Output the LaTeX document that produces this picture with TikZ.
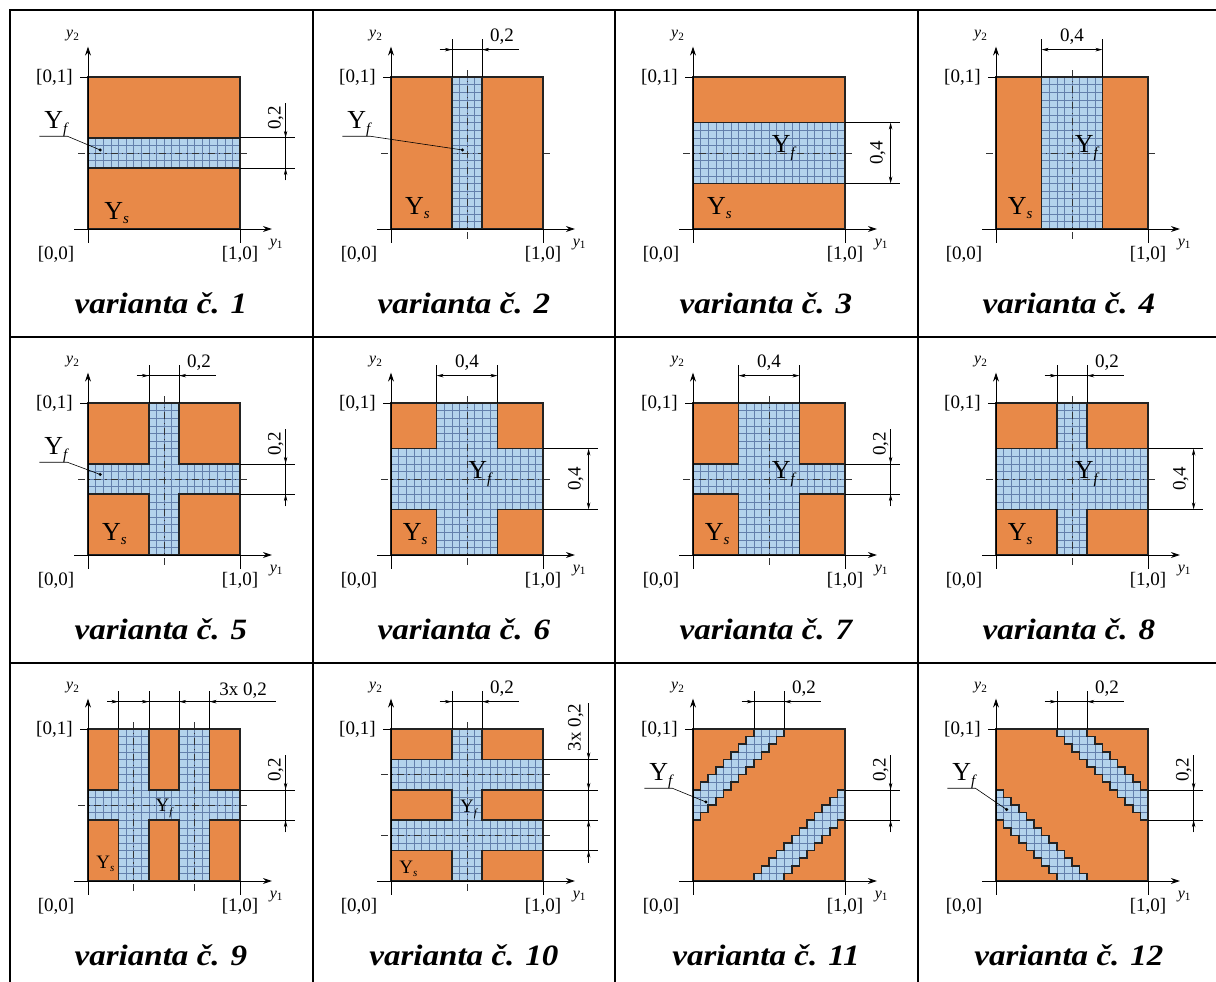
\documentclass[tikz,border=0pt]{standalone}
\usepackage{fontspec}
\setmainfont{Liberation Serif}
\newfontfamily\capfont[FakeStretch=1.12]{Liberation Serif}
\usetikzlibrary{arrows.meta}
\definecolor{orng}{RGB}{232,137,72}
\definecolor{lblue}{RGB}{180,211,236}
\definecolor{gridc}{RGB}{100,128,172}
\definecolor{edgec}{RGB}{35,35,35}
\tikzset{
  outl/.style={draw=edgec, line width=1.6pt},
  orpiece/.style={fill=orng, draw=edgec, line width=1.6pt},
  gridst/.style={draw=gridc, line width=0.5pt},
  cline/.style={draw=black!80, line width=0.6pt, dash pattern=on 7pt off 4pt on 1.2pt off 4pt},
  axisst/.style={draw=black, line width=0.9pt, -{Stealth[length=9pt,width=6pt]}},
  thinl/.style={draw=black, line width=0.6pt},
  dtip/.style={draw=black, line width=0.6pt, -{Stealth[length=7pt,width=3.5pt]}},
  dboth/.style={draw=black, line width=0.6pt, {Stealth[length=7pt,width=3.5pt]}-{Stealth[length=7pt,width=3.5pt]}},
  lbl/.style={font=\fontsize{19}{21}\selectfont, inner sep=0pt},
  ylab/.style={font=\fontsize{26}{28}\selectfont, inner sep=0pt},
  ylabs/.style={font=\fontsize{19}{21}\selectfont, inner sep=0pt},
  capst/.style={font=\capfont\fontsize{29.5}{32}\selectfont\bfseries\itshape, inner sep=0pt},
  axl/.style={font=\fontsize{16}{18}\selectfont\itshape, inner sep=0pt},
  tbl/.style={draw=black, line width=2pt}
}
\newcommand{\Yf}{Y\rlap{\smash{\raisebox{-0.2em}{\fontsize{15}{15}\selectfont\itshape f}}}}
\newcommand{\Ys}{Y\rlap{\smash{\raisebox{-0.15em}{\fontsize{15}{15}\selectfont\itshape s}}}}
\newcommand{\Yfs}{Y\rlap{\smash{\raisebox{-0.2em}{\fontsize{11}{11}\selectfont\itshape f}}}}
\newcommand{\Yss}{Y\rlap{\smash{\raisebox{-0.15em}{\fontsize{11}{11}\selectfont\itshape s}}}}
\newcommand{\hcl}[1]{\draw[cline] (-0.065,#1)--(1.065,#1);}
\newcommand{\vcl}[1]{\draw[cline] (#1,-0.065)--(#1,1.065);}
\newcommand{\rectcell}[2]{%
  #1
  \fill[lblue] (0,0) rectangle (1,1);
  \foreach \m in {1,...,19} {\draw[gridst] (\m/20,0)--(\m/20,1) (0,\m/20)--(1,\m/20);}
  #1
  #2
  \draw[outl] (0,0) rectangle (1,1);
}
\newcommand{\corners}[4]{\draw[orpiece] (0,0) rectangle (#1,#3) (#2,0) rectangle (1,#3) (0,#4) rectangle (#1,1) (#2,#4) rectangle (1,1);}
\newcommand{\basecell}[2]{%
  \draw[axisst] (-0.092,0) -- (1.21,0);
  \draw[axisst] (0,-0.092) -- (0,1.2);
  \draw[thinl] (1,0) -- (1,-0.092);
  \draw[thinl] (0,1) -- (-0.055,1);
  \node[lbl,anchor=east] (#1a) at (-0.1,1) {[0,1]};
  \node[lbl] (#1b) at (-0.21,-0.17) {[0,0]};
  \node[lbl] (#1c) at (1.0,-0.17) {[1,0]};
  \node[axl] (#1d) at (-0.1,1.27) {y\textsubscript{\upshape 2}};
  \node[axl] (#1e) at (1.24,-0.1) {y\textsubscript{\upshape 1}};
  \node[capst] (#1cap) at (0.48,-0.49) {varianta č. #2};
}
\newcommand{\leader}[3]{%
  \node[ylab] (#1yf) at (-0.225,0.72) {\Yf};
  \coordinate (#1dot) at (#2,#3);
  \draw[thinl] (-0.32,0.61) -- (-0.135,0.61) -- (#1dot);
  \fill (#1dot) circle (1.7pt);
}
\newcommand{\dimTopA}[1]{%
  \draw[thinl] (0.4,1)--(0.4,1.25) (0.6,1)--(0.6,1.25) (0.32,1.18)--(0.84,1.18);
  \draw[dtip] (0.33,1.18)--(0.4,1.18);
  \draw[dtip] (0.67,1.18)--(0.6,1.18);
  \node[lbl] (#1ta) at (0.73,1.265) {0,2};
}
\newcommand{\dimTopB}[1]{%
  \draw[thinl] (0.3,1)--(0.3,1.25) (0.7,1)--(0.7,1.25);
  \draw[dboth] (0.3,1.18)--(0.7,1.18);
  \node[lbl] (#1tb) at (0.5,1.265) {0,4};
}
\newcommand{\dimRightA}[1]{%
  \draw[thinl] (1,0.4)--(1.36,0.4) (1,0.6)--(1.36,0.6) (1.30,0.32)--(1.30,0.83);
  \draw[dtip] (1.30,0.67)--(1.30,0.6);
  \draw[dtip] (1.30,0.33)--(1.30,0.4);
  \node[lbl,rotate=90] (#1ra) at (1.235,0.73) {0,2};
}
\newcommand{\dimRightB}[1]{%
  \draw[thinl] (1,0.3)--(1.36,0.3) (1,0.7)--(1.36,0.7);
  \draw[dboth] (1.30,0.3)--(1.30,0.7);
  \node[lbl,rotate=90] (#1rb) at (1.215,0.5) {0,4};
}
\newcommand{\bandA}{(0,8) \foreach \i in {0,...,11} { -- (\i+1,\i+8) -- (\i+1,\i+9) } -- (8,20) \foreach \k in {8,...,1} { -- (\k,\k+11) -- (\k-1,\k+11) } -- cycle}
\newcommand{\bandpiece}{%
  \fill[lblue] \bandA;
  \begin{scope}
    \clip \bandA;
    \foreach \m in {1,...,19} {\draw[gridst] (\m,0)--(\m,20) (0,\m)--(20,\m);}
  \end{scope}
  \draw[outl] \bandA;
}
\newcommand{\stairs}{%
  \fill[orng] (0,0) rectangle (1,1);
  \begin{scope}[scale=0.05] \bandpiece \end{scope}
  \begin{scope}[cm={0,1,1,0,(0,0)},scale=0.05] \bandpiece \end{scope}
  \draw[outl] (0,0) rectangle (1,1);
}
\begin{document}
\begin{tikzpicture}[x=1pt,y=-1pt]
\useasboundingbox (0,0) rectangle (1216,982);
\fill[white] (0,0) rectangle (1216,982);
% table
\draw[tbl] (10,982) -- (10,10) -- (1216,10);
\draw[tbl] (313,10)--(313,982) (615,10)--(615,982) (918,10)--(918,982);
\draw[tbl] (10,336.5)--(1216,336.5) (10,663)--(1216,663);
% ---------- row 1
\begin{scope}[shift={(88,229)},x=152pt,y=152pt]
  \rectcell{\hcl{0.5}}{\draw[orpiece] (0,0) rectangle (1,0.4) (0,0.6) rectangle (1,1);}
  \dimRightA{v1}
  \leader{v1}{0.08}{0.52}
  \node[ylab] (v1ys) at (0.17,0.12) {\Ys};
  \basecell{v1}{1}
\end{scope}
\begin{scope}[shift={(391,229)},x=152pt,y=152pt]
  \rectcell{\hcl{0.5}\vcl{0.5}}{\draw[orpiece] (0,0) rectangle (0.4,1) (0.6,0) rectangle (1,1);}
  \dimTopA{v2}
  \leader{v2}{0.47}{0.52}
  \node[ylab] (v2ys) at (0.155,0.15) {\Ys};
  \basecell{v2}{2}
\end{scope}
\begin{scope}[shift={(693,229)},x=152pt,y=152pt]
  \rectcell{\hcl{0.5}}{\draw[orpiece] (0,0) rectangle (1,0.3) (0,0.7) rectangle (1,1);}
  \dimRightB{v3}
  \node[ylab] (v3yf) at (0.58,0.56) {\Yf};
  \node[ylab] (v3ys) at (0.155,0.15) {\Ys};
  \basecell{v3}{3}
\end{scope}
\begin{scope}[shift={(996,229)},x=152pt,y=152pt]
  \rectcell{\hcl{0.5}\vcl{0.5}}{\draw[orpiece] (0,0) rectangle (0.3,1) (0.7,0) rectangle (1,1);}
  \dimTopB{v4}
  \node[ylab] (v4yf) at (0.58,0.56) {\Yf};
  \node[ylab] (v4ys) at (0.14,0.15) {\Ys};
  \basecell{v4}{4}
\end{scope}
% ---------- row 2
\begin{scope}[shift={(88,555)},x=152pt,y=152pt]
  \rectcell{\hcl{0.5}\vcl{0.5}}{\corners{0.4}{0.6}{0.4}{0.6}}
  \dimTopA{v5}
  \dimRightA{v5}
  \leader{v5}{0.08}{0.53}
  \node[ylab] (v5ys) at (0.155,0.15) {\Ys};
  \basecell{v5}{5}
\end{scope}
\begin{scope}[shift={(391,555)},x=152pt,y=152pt]
  \rectcell{\hcl{0.5}\vcl{0.5}}{\corners{0.3}{0.7}{0.3}{0.7}}
  \dimTopB{v6}
  \dimRightB{v6}
  \node[ylab] (v6yf) at (0.57,0.56) {\Yf};
  \node[ylab] (v6ys) at (0.14,0.15) {\Ys};
  \basecell{v6}{6}
\end{scope}
\begin{scope}[shift={(693,555)},x=152pt,y=152pt]
  \rectcell{\hcl{0.5}\vcl{0.5}}{\corners{0.3}{0.7}{0.4}{0.6}}
  \dimTopB{v7}
  \dimRightA{v7}
  \node[ylab] (v7yf) at (0.58,0.56) {\Yf};
  \node[ylab] (v7ys) at (0.14,0.15) {\Ys};
  \basecell{v7}{7}
\end{scope}
\begin{scope}[shift={(996,555)},x=152pt,y=152pt]
  \rectcell{\hcl{0.5}\vcl{0.5}}{\corners{0.4}{0.6}{0.3}{0.7}}
  \dimTopA{v8}
  \dimRightB{v8}
  \node[ylab] (v8yf) at (0.58,0.56) {\Yf};
  \node[ylab] (v8ys) at (0.14,0.15) {\Ys};
  \basecell{v8}{8}
\end{scope}
% ---------- row 3
\begin{scope}[shift={(88,881)},x=152pt,y=152pt]
  \rectcell{\hcl{0.5}\vcl{0.3}\vcl{0.7}}{\draw[orpiece] (0,0) rectangle (0.2,0.4) (0.4,0) rectangle (0.6,0.4) (0.8,0) rectangle (1,0.4) (0,0.6) rectangle (0.2,1) (0.4,0.6) rectangle (0.6,1) (0.8,0.6) rectangle (1,1);}
  \draw[thinl] (0.2,1)--(0.2,1.25) (0.4,1)--(0.4,1.25) (0.6,1)--(0.6,1.25) (0.8,1)--(0.8,1.25) (0.125,1.18)--(1.24,1.18);
  \draw[dtip] (0.14,1.18)--(0.2,1.18);
  \draw[dtip] (0.34,1.18)--(0.4,1.18);
  \draw[dtip] (0.66,1.18)--(0.6,1.18);
  \draw[dtip] (0.86,1.18)--(0.8,1.18);
  \node[lbl] (v9tc) at (1.02,1.25) {3x 0,2};
  \dimRightA{v9}
  \node[ylabs] (v9yf) at (0.49,0.5) {\Yfs};
  \node[ylabs] (v9ys) at (0.1,0.125) {\Yss};
  \basecell{v9}{9}
\end{scope}
\begin{scope}[shift={(391,881)},x=152pt,y=152pt]
  \rectcell{\hcl{0.3}\hcl{0.7}\vcl{0.5}}{\draw[orpiece] (0,0) rectangle (0.4,0.2) (0.6,0) rectangle (1,0.2) (0,0.4) rectangle (0.4,0.6) (0.6,0.4) rectangle (1,0.6) (0,0.8) rectangle (0.4,1) (0.6,0.8) rectangle (1,1);}
  \dimTopA{v10}
  \draw[thinl] (1,0.2)--(1.36,0.2) (1,0.4)--(1.36,0.4) (1,0.6)--(1.36,0.6) (1,0.8)--(1.36,0.8) (1.30,0.12)--(1.30,1.17);
  \draw[dtip] (1.30,0.86)--(1.30,0.8);
  \draw[dtip] (1.30,0.66)--(1.30,0.6);
  \draw[dtip] (1.30,0.34)--(1.30,0.4);
  \draw[dtip] (1.30,0.14)--(1.30,0.2);
  \node[lbl,rotate=90] (v10rc) at (1.215,1.01) {3x 0,2};
  \node[ylabs] (v10yf) at (0.5,0.49) {\Yfs};
  \node[ylabs] (v10ys) at (0.1,0.09) {\Yss};
  \basecell{v10}{10}
\end{scope}
\begin{scope}[shift={(693,881)},x=152pt,y=152pt]
  \stairs
  \dimTopA{v11}
  \dimRightA{v11}
  \leader{v11}{0.085}{0.52}
  \basecell{v11}{11}
\end{scope}
\begin{scope}[shift={(996,881)},x=152pt,y=152pt]
  \begin{scope}[shift={(1,0)},xscale=-1]
    \stairs
  \end{scope}
  \dimTopA{v12}
  \dimRightA{v12}
  \leader{v12}{0.07}{0.47}
  \basecell{v12}{12}
\end{scope}
\end{tikzpicture}
\end{document}
